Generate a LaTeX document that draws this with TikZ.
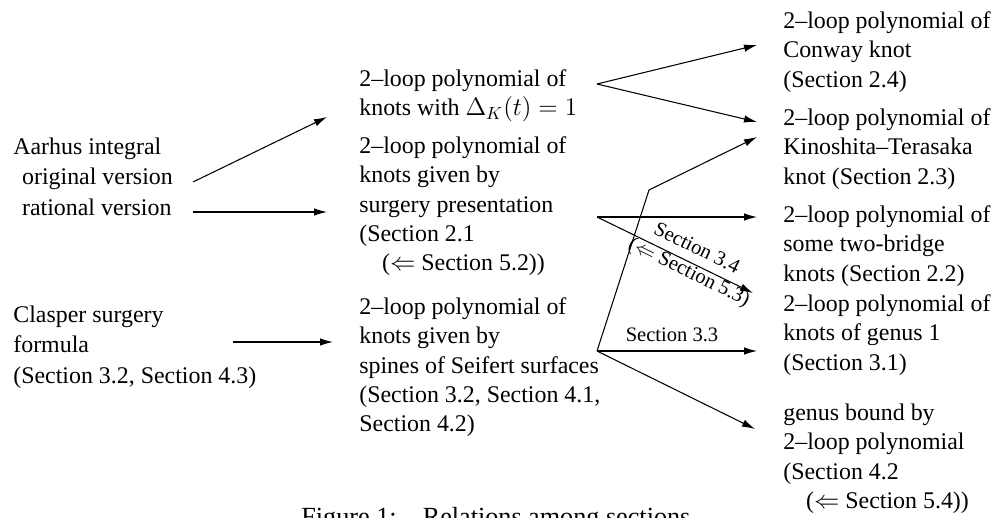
\documentclass[tikz,border=0pt]{standalone}
\usepackage{fontspec}
\setmainfont{Liberation Serif}
\usetikzlibrary{arrows.meta}
\tikzset{txt/.style={anchor=north west,yshift=11.69pt,inner sep=0pt,align=left,
    font=\fontsize{13.6}{16.7}\selectfont},
  wide/.style={yshift=0.42pt,font=\fontsize{13.6}{17.3}\selectfont},
  lbl/.style={inner sep=0pt,font=\fontsize{11.7}{14}\selectfont},
  arr/.style={-{Latex[length=2.6mm,width=1.5mm]},line width=0.6pt}}
\newcommand{\textbox}[4][]% options, name, first baseline, text
{\node[txt,#1] (#2) at (#3) {\strut#4};
}

\begin{document}
\begin{tikzpicture}[x=0.02cm,y=-0.02cm]
  \useasboundingbox (0,0) rectangle (1000,517);
  % left column
  \textbox[wide]{aarhus}{13,154}{Aarhus integral\\\hspace*{5pt}original version\\\hspace*{5pt}rational version}
  \textbox[wide]{clasper}{13,322}{Clasper surgery\\formula\\(Section 3.2, Section 4.3)}
  % middle column
  \textbox{unit}{359,86}{2--loop polynomial of\\knots with $\Delta_K(t)=1$}
  \textbox{surg}{359,153}{2--loop polynomial of\\knots given by\\surgery presentation\\(Section 2.1\\\hspace*{13pt}($\Leftarrow$ Section 5.2))}
  \textbox{spine}{359,314}{2--loop polynomial of\\knots given by\\spines of Seifert surfaces\\(Section 3.2, Section 4.1,\\Section 4.2)}
  % right column
  \textbox{conway}{783,28}{2--loop polynomial of\\Conway knot\\(Section 2.4)}
  \textbox{kt}{783,125}{2--loop polynomial of\\Kinoshita--Terasaka\\knot (Section 2.3)}
  \textbox{bridge}{783,222}{2--loop polynomial of\\some two-bridge\\knots (Section 2.2)}
  \textbox{genus}{783,311}{2--loop polynomial of\\knots of genus 1\\(Section 3.1)}
  \textbox{bound}{783,420}{genus bound by\\2--loop polynomial\\(Section 4.2\\\hspace*{13pt}($\Leftarrow$ Section 5.4))}
  \node[anchor=base west,inner sep=0pt,font=\fontsize{14.9}{18}\selectfont] (cap) at (301,525) {Figure 1:\quad Relations among sections};

  \coordinate (aarhusA) at (193,182);
  \coordinate (aarhusB) at (193,212);
  \coordinate (clasperC) at (233,342);
  \coordinate (unitIn) at (327,117);
  \coordinate (surgIn) at (327,212);
  \coordinate (spineIn) at (333,342);
  \coordinate (unitOut) at (597,84);
  \coordinate (surgOut) at (597,217);
  \coordinate (spineOut) at (597,351);
  \coordinate (bend) at (649,190);
  \coordinate (conwayIn) at (757,45);
  \coordinate (ktInA) at (757,122);
  \coordinate (ktInB) at (757,137);
  \coordinate (bridgeIn) at (757,217);
  \coordinate (genusInA) at (753,293);
  \coordinate (genusInB) at (757,351);
  \coordinate (boundIn) at (755,429);

  \draw[arr] (aarhusA) -- (unitIn);
  \draw[arr] (aarhusB) -- (surgIn);
  \draw[arr] (clasperC) -- (spineIn);
  \draw[arr] (unitOut) -- (conwayIn);
  \draw[arr] (unitOut) -- (ktInA);
  \draw[arr] (surgOut) -- (bridgeIn);
  \draw[arr] (surgOut) -- (genusInA);
  \draw[arr] (spineOut) -- (bend) -- (ktInB);
  \draw[arr] (spineOut) -- (genusInB);
  \draw[arr] (spineOut) -- (boundIn);

  \node[lbl,anchor=base] (s33) at (672,341) {Section 3.3};
  \node[lbl,align=left,rotate=-26] (s34) at (694,262) {\hspace*{0.8em}Section 3.4\\($\Leftarrow$ Section 5.3)};
\end{tikzpicture}
\end{document}
